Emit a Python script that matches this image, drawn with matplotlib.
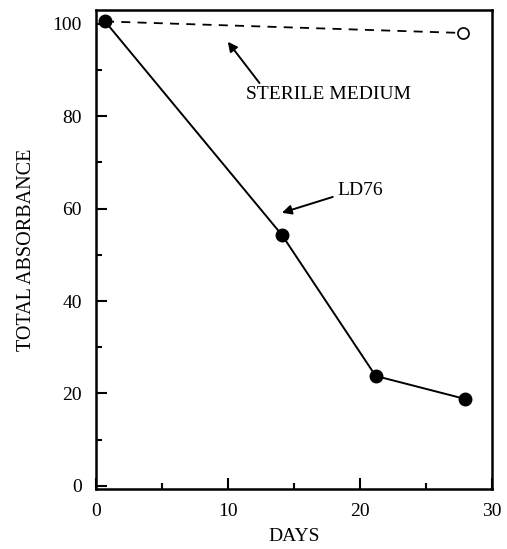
import numpy as np
import matplotlib
matplotlib.use("Agg")
import matplotlib.pyplot as plt
from matplotlib.ticker import MultipleLocator

plt.rcParams['font.family'] = ['Liberation Serif', 'DejaVu Serif']

# data
ld76_days = [0.7, 14.1, 21.2, 28.0]
ld76_abs = [100.5, 54.3, 23.8, 18.8]
sterile_days = [0.7, 27.8]
sterile_abs = [100.5, 98.0]

fig = plt.figure(figsize=(5.07, 5.49), dpi=100)
ax = fig.add_axes([0.189, 0.109, 0.781, 0.873])

ax.plot(sterile_days, sterile_abs, color='black', lw=1.3, ls=(0, (5, 4)))
ax.plot(sterile_days[-1:], sterile_abs[-1:], 'o', mfc='white', mec='black', ms=8, mew=1.2)
ax.plot(ld76_days, ld76_abs, color='black', lw=1.4, marker='o', ms=9, mfc='black', mec='black')

ax.annotate('STERILE MEDIUM', xy=(10.0, 96.1), xytext=(11.4, 84.6),
            fontsize=14, va='center', ha='left',
            arrowprops=dict(arrowstyle='-|>', color='black', lw=1.4,
                            mutation_scale=14, shrinkA=0, shrinkB=0,
                            relpos=(0.08, 1.2)))
ax.annotate('LD76', xy=(14.1, 59.1), xytext=(18.3, 64.0),
            fontsize=14, va='center', ha='left',
            arrowprops=dict(arrowstyle='-|>', color='black', lw=1.4,
                            mutation_scale=14, shrinkA=0, shrinkB=0,
                            relpos=(-0.1, 0.1)))

ax.set_xlim(0, 30)
ax.set_ylim(-0.7, 103)
ax.xaxis.set_major_locator(MultipleLocator(10))
ax.xaxis.set_minor_locator(MultipleLocator(5))
ax.yaxis.set_major_locator(MultipleLocator(20))
ax.yaxis.set_minor_locator(MultipleLocator(10))
ax.tick_params(which='both', direction='in', width=1.5, labelsize=14)
ax.tick_params(which='major', length=8)
ax.tick_params(which='minor', length=4)
ax.tick_params(axis='x', pad=10)
ax.tick_params(axis='y', pad=10)
for s in ax.spines.values():
    s.set_linewidth(1.8)

ax.set_xlabel('DAYS', fontsize=14, labelpad=6)
ax.set_ylabel('TOTAL ABSORBANCE', fontsize=14.5, labelpad=12)

fig.savefig('out.png', dpi=100)
